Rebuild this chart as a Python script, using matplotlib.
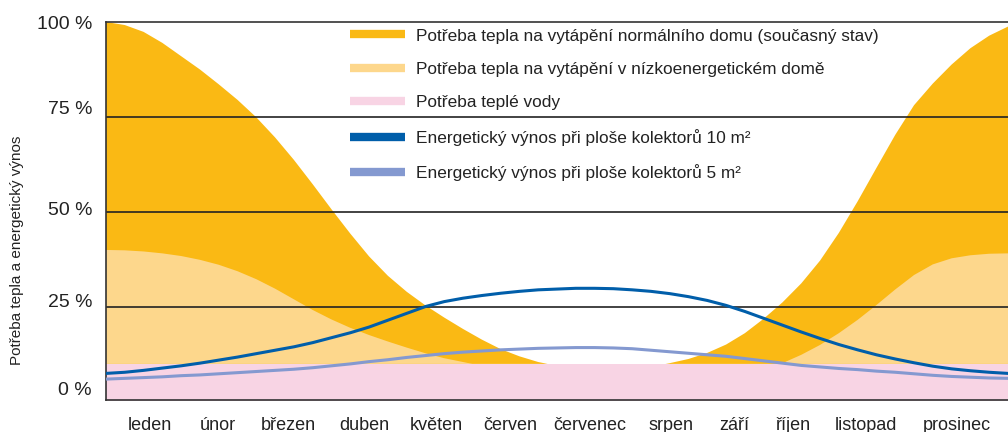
import matplotlib.pyplot as plt
from matplotlib.lines import Line2D

plt.rcParams['font.family'] = ['Liberation Sans', 'DejaVu Sans']

# quarter-month steps, January start to December end
months_x = [i * 0.25 for i in range(49)]
heat_normal = [100, 99.2, 97.4, 94.5, 91, 87.5, 83.6, 79.5, 74.9, 69.6, 63.7, 57.3,
               50.7, 44.3, 38.3, 33.2, 29, 25.4, 22.2, 19.2, 16.4, 13.9, 12, 10.5,
               9.5, 9, 9, 9, 9, 9.3, 10.2, 11.3, 12.9, 15.1, 18.1, 21.9,
               26.2, 31.2, 37.2, 44.5, 52.8, 61.6, 70.3, 78.1, 83.8, 88.8, 93.1, 96.4, 98.8]
heat_low = [40, 39.9, 39.6, 39.1, 38.4, 37.4, 36.1, 34.4, 32.3, 29.8, 27, 24.2,
            21.7, 19.5, 17.6, 15.9, 14.3, 12.8, 11.5, 10.5, 9.5, 9, 9, 9,
            9, 9, 9, 9, 9, 9, 9, 9, 9, 9, 9, 9,
            10.2, 12.4, 15, 18.1, 21.6, 25.5, 29.6, 33.4, 36.2, 37.8, 38.6, 39, 39.1]
hot_water = [10] * 49
yield_10 = [7.5, 7.8, 8.3, 8.9, 9.5, 10.2, 11, 11.8, 12.7, 13.6, 14.5, 15.6,
            16.9, 18.2, 19.7, 21.5, 23.3, 25.1, 26.4, 27.3, 28, 28.6, 29.1, 29.5,
            29.7, 29.9, 29.9, 29.8, 29.5, 29.1, 28.5, 27.7, 26.7, 25.4, 23.8, 22,
            20.2, 18.4, 16.7, 15.1, 13.7, 12.4, 11.3, 10.3, 9.4, 8.7, 8.2, 7.8, 7.5]
yield_5 = [6.0, 6.2, 6.4, 6.6, 6.9, 7.1, 7.4, 7.7, 8.0, 8.3, 8.6, 9.0,
           9.5, 10.0, 10.6, 11.1, 11.7, 12.2, 12.7, 13.1, 13.4, 13.7, 13.9, 14.1,
           14.2, 14.3, 14.3, 14.2, 14.0, 13.6, 13.2, 12.8, 12.4, 12.0, 11.4, 10.8,
           10.2, 9.6, 9.2, 8.8, 8.5, 8.1, 7.8, 7.4, 7.0, 6.7, 6.5, 6.3, 6.2]

month_names = ["leden", "únor", "březen", "duben", "květen", "červen", "červenec",
               "srpen", "září", "říjen", "listopad", "prosinec"]
month_pos = [0.585, 1.49, 2.43, 3.43, 4.40, 5.38, 6.44, 7.52, 8.36, 9.14, 10.11, 11.32]
pct_labels = ["0 %", "25 %", "50 %", "75 %", "100 %"]
pct_pos = [3.4, 26.8, 51, 77.4, 99.8]
grid_levels = [25, 50, 75]

c_normal = "#FAB914"
c_low = "#FDD78C"
c_water = "#F8D4E4"
c_blue = "#005EAA"
c_lblue = "#8499D0"

fig = plt.figure(figsize=(10.08, 4.32), dpi=100)
ax = fig.add_axes([106 / 1008, 32 / 432, 902 / 1008, 378 / 432])

ax.fill_between(months_x, hot_water, heat_normal,
                where=[a >= b for a, b in zip(heat_normal, hot_water)],
                interpolate=True, color=c_normal, lw=0, zorder=1)
ax.fill_between(months_x, hot_water, heat_low,
                where=[a >= b for a, b in zip(heat_low, hot_water)],
                interpolate=True, color=c_low, lw=0, zorder=1.1)
ax.fill_between(months_x, 0, hot_water, color=c_water, lw=0, zorder=1.2)

for v in grid_levels:
    ax.axhline(v, color="#222222", lw=1.2, zorder=2)

ax.plot(months_x, yield_5, color=c_lblue, lw=2.2, zorder=3, solid_joinstyle='round')
ax.plot(months_x, yield_10, color=c_blue, lw=2.2, zorder=3.1, solid_joinstyle='round')

ax.set_xlim(0, 12)
ax.set_ylim(0.5, 100)
ax.set_yticks(pct_pos)
ax.set_yticklabels(pct_labels, fontsize=14, color="#222222")
ax.set_xticks(month_pos)
ax.set_xticklabels(month_names, fontsize=13, color="#222222")
ax.tick_params(length=0)
ax.tick_params(axis='y', pad=10)
ax.tick_params(axis='x', pad=12)
ax.set_ylabel("Potřeba tepla a energetický výnos", fontsize=11, color="#222222")
ax.yaxis.set_label_coords(-0.091, 0.397)

ax.spines['right'].set_visible(False)
for s in ['left', 'top', 'bottom']:
    ax.spines[s].set_color("#333333")
    ax.spines[s].set_linewidth(1.2)

labels = ["Potřeba tepla na vytápění normálního domu (současný stav)",
          "Potřeba tepla na vytápění v nízkoenergetickém domě",
          "Potřeba teplé vody",
          "Energetický výnos při ploše kolektorů 10 m²",
          "Energetický výnos při ploše kolektorů 5 m²"]
colors = [c_normal, c_low, c_water, c_blue, c_lblue]
handles = [Line2D([], [], color=c, lw=6, solid_capstyle='butt') for c in colors]
leg = ax.legend(handles, labels, loc="upper left", bbox_to_anchor=(0.2672, 0.992),
                frameon=False, fontsize=12.4, handlelength=3.14, handletextpad=0.64,
                labelspacing=1.065, borderpad=0.2, borderaxespad=0)
for t in leg.get_texts():
    t.set_color("#222222")

fig.savefig("out.png", dpi=100)
